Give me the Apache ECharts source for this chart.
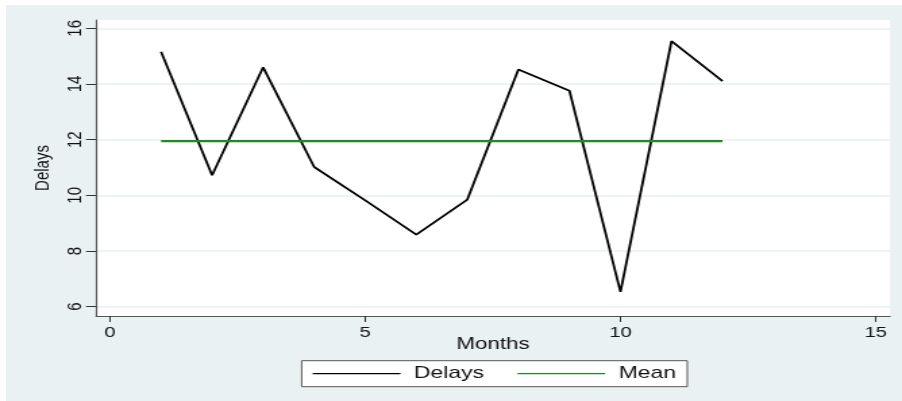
<!DOCTYPE html>
<html>
<head>
<meta charset="utf-8">
<script src="https://cdn.jsdelivr.net/npm/echarts@6/dist/echarts.min.js"></script>
<style>
  html, body { margin: 0; padding: 0; background: #fff; overflow: hidden; }
  #bg { position: absolute; left: 6px; top: 5px; width: 896px; height: 396px; background: #eaf1f3; }
  /* the reference is a horizontally stretched picture, so the chart is stretched the same way */
  #main { position: absolute; left: 0; top: 0; width: 668px; height: 401px;
          transform: scaleX(1.3503); transform-origin: 0 0; }
</style>
</head>
<body>
<div id="bg"></div>
<div id="main"></div>
<script>
// data
var months = [1, 2, 3, 4, 5, 6, 7, 8, 9, 10, 11, 12];
var delays = [15.16, 10.72, 14.60, 11.02, 9.82, 8.59, 9.85, 14.52, 13.76, 6.53, 15.54, 14.10];
var mean = [11.95, 11.95, 11.95, 11.95, 11.95, 11.95, 11.95, 11.95, 11.95, 11.95, 11.95, 11.95];
var xTicks = [0, 5, 10, 15];
var yTicks = [6, 8, 10, 12, 14, 16];

function pairs(xs, ys) {
  return xs.map(function (x, i) { return [x, ys[i]]; });
}

var chart = echarts.init(document.getElementById('main'), null, { renderer: 'canvas' });

var font = 'Liberation Sans, Arial, sans-serif';

var option = {
  animation: false,
  textStyle: { fontFamily: font },
  grid: {
    left: 71.1, right: 8.9, top: 20, bottom: 85,
    show: true, backgroundColor: '#ffffff', borderWidth: 0
  },
  legend: {
    left: 223.4,
    top: 360.7,
    orient: 'horizontal',
    padding: [4.5, 8.3, 4.5, 7.5],
    itemWidth: 65,
    itemHeight: 14,
    itemGap: 24,
    borderColor: '#555555',
    borderWidth: 1,
    backgroundColor: '#ffffff',
    borderRadius: 0,
    itemStyle: { opacity: 0 },
    lineStyle: { width: 1.3 },
    textStyle: { fontSize: 17, color: '#111', fontFamily: font, padding: [0, 0, 0, 5] },
    data: ['Delays', 'Mean']
  },
  xAxis: {
    type: 'value',
    min: -0.274,
    max: 15.28,
    name: 'Months',
    nameLocation: 'middle',
    nameGap: 20,
    nameMoveOverlap: false,
    nameTextStyle: { fontSize: 16.5, color: '#111' },
    axisLine: { show: true, onZero: false, lineStyle: { color: '#555', width: 1.2 } },
    axisTick: { show: true, length: 6, customValues: xTicks, lineStyle: { color: '#333', width: 1 } },
    axisLabel: { customValues: xTicks, fontSize: 15, color: '#111', margin: 9 },
    splitLine: { show: false }
  },
  yAxis: {
    type: 'value',
    min: 5.666,
    max: 16.30,
    name: 'Delays',
    nameLocation: 'middle',
    nameGap: 32,
    nameMoveOverlap: false,
    nameTextStyle: { fontSize: 15, color: '#111' },
    axisLine: { show: true, onZero: false, lineStyle: { color: '#555', width: 1.2 } },
    axisTick: { show: true, length: 7.4, customValues: yTicks, lineStyle: { color: '#333', width: 1 } },
    axisLabel: { customValues: yTicks, rotate: 90, fontSize: 15, color: '#111', margin: 8 },
    splitLine: { show: true, lineStyle: { color: '#e8eff1', width: 1.5 } }
  },
  series: [
    {
      name: 'Delays',
      type: 'line',
      data: pairs(months, delays),
      symbol: 'none',
      lineStyle: { color: '#000000', width: 1.8 },
      itemStyle: { color: '#000000' }
    },
    {
      name: 'Mean',
      type: 'line',
      data: pairs(months, mean),
      symbol: 'none',
      lineStyle: { color: '#1e8c1e', width: 2.4 },
      itemStyle: { color: '#1e8c1e' }
    }
  ]
};

chart.setOption(option);
</script>
</body>
</html>
